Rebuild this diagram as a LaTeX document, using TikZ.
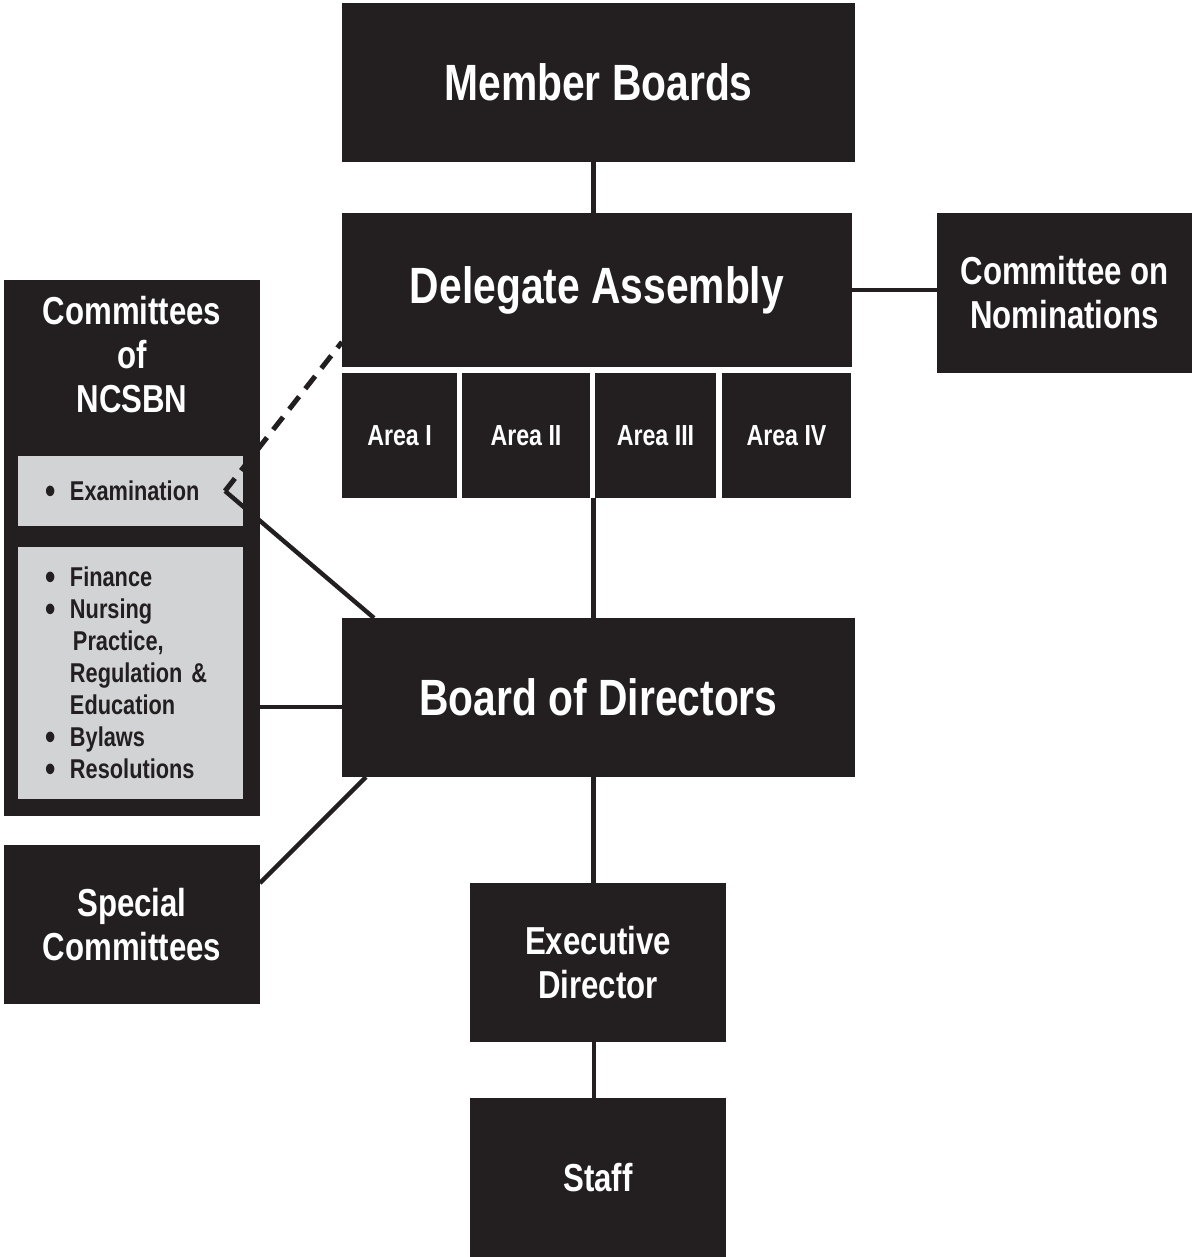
\documentclass[tikz,border=0pt]{standalone}
\usepackage{fontspec}
\setmainfont{Liberation Sans}[FakeStretch=0.8]
\usetikzlibrary{positioning}
\definecolor{boxblack}{HTML}{231F20}
\definecolor{boxgray}{HTML}{D1D3D4}
\newcommand{\bul}{\makebox[12pt][l]{\smash{\raisebox{-1.6pt}{\scalebox{1.35}{\textbullet}}}}}

\begin{document}
\begin{tikzpicture}[x=0.5pt,y=-0.5pt,line width=2.2pt,draw=boxblack,
                    every node/.style={font=\bfseries,outer sep=0pt}]
  \tikzstyle{blackbox}=[rectangle,fill=boxblack,text=white,inner sep=0pt,align=center]
  \tikzstyle{bigbox}=[blackbox,minimum width=256.5pt,minimum height=79.5pt,
                      font=\bfseries\fontsize{25.5}{30}\selectfont]
  \tikzstyle{medbox}=[blackbox,minimum width=128pt,minimum height=79.5pt,
                      font=\bfseries\fontsize{19.5}{22}\selectfont]
  \tikzstyle{areabox}=[blackbox,minimum height=62.5pt,
                       font=\bfseries\fontsize{14.5}{16}\selectfont]
  \tikzstyle{graybox}=[rectangle,fill=boxgray,text=boxblack,inner ysep=0pt,
                       inner xsep=14pt,text width=84.5pt,align=left,
                       font=\bfseries\fontsize{13.6}{16}\selectfont]

  \useasboundingbox[fill=white] (0,0) rectangle (1192,1257);

  \node[bigbox]  (MB)  at (598.5,82.5)  {Member Boards};
  \node[bigbox,minimum width=255pt,minimum height=77pt]
                 (DA)  at (597,290)     {Delegate Assembly};
  \node[medbox,minimum height=80pt]
                 (CN)  at (1064.5,293)  {Committee on\\Nominations};

  \node[areabox,minimum width=57.5pt] (A1) at (399.5,435.5) {Area I};
  \node[areabox,minimum width=64pt]   (A2) at (526,435.5)   {Area II};
  \node[areabox,minimum width=60.5pt] (A3) at (655.5,435.5) {Area III};
  \node[areabox,minimum width=64.5pt] (A4) at (786.5,435.5) {Area IV};

  \node[medbox,minimum height=268pt] (CoN) at (132,548) {};
  \node[text=white,align=center,font=\bfseries\fontsize{19.5}{22}\selectfont]
                 (CoNtitle) at (132,355) {Committees\\of\\NCSBN};
  \node[graybox,minimum height=35pt]  (Exam) at (130.5,491) {\bul Examination};
  \node[graybox,minimum height=126pt] (List) at (130.5,673)
        {\bul Finance\\
         \bul Nursing\\
         \hspace*{13.5pt}Practice,\\
         \hspace*{12pt}Regulation \&\\
         \hspace*{12pt}Education\\
         \bul Bylaws\\
         \bul Resolutions};

  \node[bigbox]  (BoD) at (598.5,697.5) {Board of Directors};
  \node[medbox]  (SC)  at (132,924.5)   {Special\\Committees};
  \node[medbox]  (ED)  at (598,962.5)   {Executive\\Director};
  \node[medbox]  (ST)  at (598,1177.5)  {Staff};

  \coordinate (ExamTip) at ([xshift=-9pt]Exam.east);

  \path ([xshift=-2.5pt]MB.south)  edge ([xshift=-2.5pt]MB.south |- DA.north)
        (DA.east)                  edge (DA.east -| CN.west)
        ([xshift=-2.5pt]BoD.north) edge ([xshift=-2.5pt]BoD.north |- A3.south)
        ([xshift=-2.5pt]BoD.south) edge ([xshift=-2.5pt]BoD.south |- ED.north)
        ([xshift=-2pt]ED.south)    edge ([xshift=-2pt]ED.south |- ST.north)
        ([yshift=-4.75pt]BoD.west) edge ([yshift=-4.75pt]BoD.west -| CoN.east)
        ([yshift=20.75pt]SC.east)  edge ([xshift=12pt]BoD.south west)
        (ExamTip)                  edge ([xshift=16pt]BoD.north west)
        (ExamTip)                  edge[line width=2.5pt,dash pattern=on 8pt off 5pt]
                                        ([yshift=12.5pt]DA.south west);
\end{tikzpicture}
\end{document}
